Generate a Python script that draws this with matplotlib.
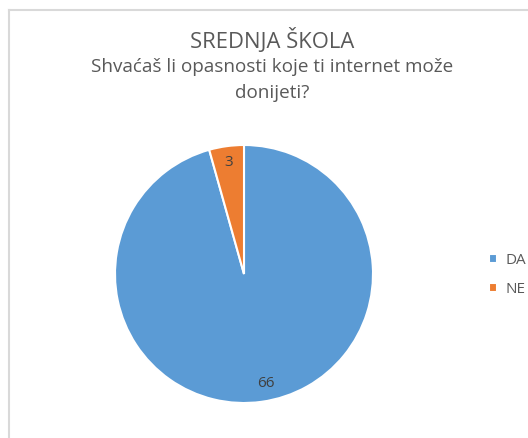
import matplotlib
matplotlib.use("Agg")
import matplotlib.pyplot as plt

categories = ["DA", "NE"]
values = [66, 3]
colors = ["#5B9BD5", "#ED7D31"]
title = "SREDNJA ŠKOLA"
subtitle_lines = ["Shvaćaš li opasnosti koje ti internet može", "donijeti?"]

W, H = 528, 438
fig = plt.figure(figsize=(W / 100, H / 100), dpi=100)
plt.rcParams['font.family'] = ['Open Sans', 'DejaVu Sans']

# chart border (top and left visible)
fig.add_artist(plt.Line2D([9 / W, 9 / W], [0, 1 - 10 / H], color="#D9D9D9", lw=1.5))
fig.add_artist(plt.Line2D([9 / W, 1], [1 - 10 / H, 1 - 10 / H], color="#D9D9D9", lw=1.5))

cx, cy, r = 244, 274, 129
ax = fig.add_axes([(cx - r) / W, (H - cy - r) / H, 2 * r / W, 2 * r / H])
wedges, texts, autotexts = ax.pie(
    values, colors=colors, startangle=90, counterclock=False,
    autopct=lambda p: f"{round(p * sum(values) / 100)}", pctdistance=0.87,
    wedgeprops=dict(edgecolor="white", linewidth=1.5),
    textprops=dict(color="#404040", fontsize=11))
autotexts[0].set_position((0.17, -0.85))
ax.set_xlim(-1, 1)
ax.set_ylim(-1, 1)
ax.set_aspect("equal")
ax.axis("off")

fig.text(272 / W, 1 - 40 / H, title, ha="center", va="center", fontsize=15.8, color="#595959")
for i, line in enumerate(subtitle_lines):
    fig.text(272 / W, 1 - (67 + 26 * i) / H, line, ha="center", va="center",
             fontsize=13.6, color="#595959")

leg = fig.legend(wedges, categories, loc="center left", bbox_to_anchor=(489 / W, 1 - 275 / H),
                 frameon=False, fontsize=11, handlelength=0.55, handleheight=0.55,
                 handletextpad=0.5, labelspacing=0.95, labelcolor="#595959",
                 borderpad=0, borderaxespad=0)

fig.savefig("out.png", dpi=100)
